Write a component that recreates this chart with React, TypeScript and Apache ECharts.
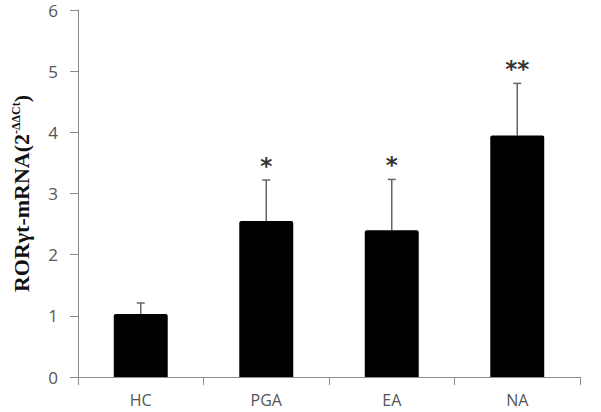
import React, { useEffect, useRef } from "react";
import * as echarts from "echarts";

const categories = ["HC", "PGA", "EA", "NA"];
const means = [1.03, 2.55, 2.4, 3.95];
const errors = [0.18, 0.67, 0.83, 0.85];
const marks = ["", "*", "*", "**"];
const yTicks = [0, 1, 2, 3, 4, 5, 6];

export default function App() {
  const ref = useRef<HTMLDivElement>(null);
  useEffect(() => {
    if (!ref.current) return;
    const chart = echarts.init(ref.current, null, { renderer: "svg" });
    const errData = categories.map((c, i) => [i, means[i], means[i] + errors[i], marks[i]]);
    chart.setOption({
      animation: false,
      grid: { left: 78, right: 21, top: 10, bottom: 35, containLabel: false },
      xAxis: {
        type: "category",
        data: categories,
        axisLine: { lineStyle: { color: "#8c8c8c", width: 1 } },
        axisTick: { show: true, alignWithLabel: false, length: 8, lineStyle: { color: "#8c8c8c" } },
        axisLabel: { color: "#555", fontSize: 16, fontFamily: "Open Sans", margin: 15 },
      },
      yAxis: {
        type: "value",
        min: yTicks[0],
        max: yTicks[yTicks.length - 1],
        interval: 1,
        splitLine: { show: false },
        axisLine: { show: true, lineStyle: { color: "#8c8c8c", width: 1 } },
        axisTick: { show: true, length: 8, lineStyle: { color: "#8c8c8c" } },
        axisLabel: { color: "#555", fontSize: 17, fontFamily: "Open Sans", margin: 20 },
        name: "RORγt-mRNA(2{sup|-ΔΔCt})",
        nameLocation: "middle",
        nameGap: 46,
        nameRotate: 90,
        nameTextStyle: {
          fontFamily: "Liberation Serif",
          fontWeight: "bold",
          fontSize: 22,
          color: "#111",
          rich: {
            sup: {
              fontFamily: "Liberation Serif",
              fontWeight: "bold",
              fontSize: 12,
              color: "#111",
              verticalAlign: "top",
              padding: [0, 0, 8, 0],
            },
          },
        },
      },
      series: [
        {
          type: "bar",
          data: means,
          barWidth: "43%",
          itemStyle: { color: "#000", borderRadius: [2, 2, 0, 0] },
          z: 2,
        },
        {
          type: "custom",
          data: errData,
          z: 1,
          renderItem: (params: any, api: any) => {
            const x = api.value(0);
            const top = api.coord([x, api.value(2)]);
            const base = api.coord([x, api.value(1)]);
            const mark = api.value(3);
            const cap = 4;
            const children: any[] = [
              { type: "line", shape: { x1: top[0], y1: base[1], x2: top[0], y2: top[1] }, style: { stroke: "#666", lineWidth: 1.5 } },
              { type: "line", shape: { x1: top[0] - cap, y1: top[1], x2: top[0] + cap, y2: top[1] }, style: { stroke: "#666", lineWidth: 1.5 } },
            ];
            if (mark) {
              children.push({
                type: "text",
                style: {
                  x: top[0],
                  y: top[1] - 3,
                  text: mark,
                  align: "center",
                  verticalAlign: "bottom",
                  fontSize: 23,
                  fontFamily: "DejaVu Sans",
                  fontWeight: "bold",
                  fill: "#333",
                },
              });
            }
            return { type: "group", children };
          },
        },
      ],
    });
    return () => chart.dispose();
  }, []);
  return <div ref={ref} style={{ width: 601, height: 412, position: "absolute", left: 0, top: 0 }} />;
}
